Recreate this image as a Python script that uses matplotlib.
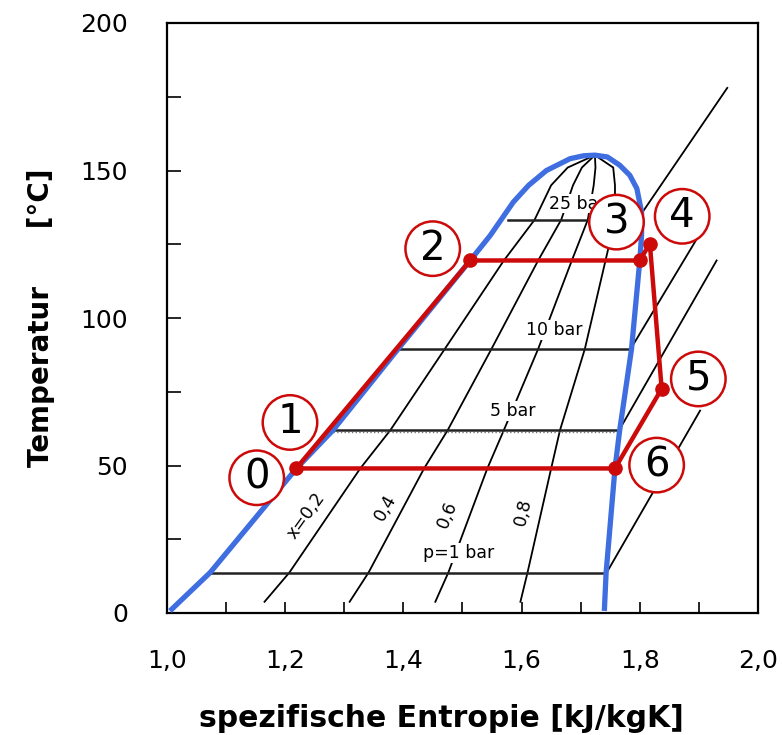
import numpy as np
import matplotlib.pyplot as plt

plt.rcParams["font.family"] = ["DejaVu Sans"]

# Saturation dome: liquid side, then vapour side
liq_T = [0.7, 13.7, 49, 62, 89.5, 119.5, 128, 139.3, 145, 150, 154, 155.0, 155.2]
liq_s = [1.005, 1.073, 1.219, 1.281, 1.391, 1.513, 1.547, 1.586, 1.612, 1.642, 1.682, 1.705, 1.724]
vap_T = [155.2, 154.6, 151.8, 148.4, 143.9, 135.9, 128, 119.5, 89.5, 62, 49, 13.7, 0.7]
vap_s = [1.724, 1.745, 1.766, 1.783, 1.795, 1.803, 1.803, 1.800, 1.786, 1.766, 1.758, 1.743, 1.740]

# Lines of constant vapour quality x
qual_T = [3.8, 13.7, 49, 62, 89.5, 119.5, 133.3, 145, 151, 155.2]
qual_s = {
    "0.2": [1.165, 1.207, 1.327, 1.378, 1.470, 1.570, 1.622, 1.650, 1.678, 1.724],
    "0.4": [1.309, 1.341, 1.435, 1.475, 1.549, 1.628, 1.667, 1.687, 1.702, 1.724],
    "0.6": [1.454, 1.476, 1.542, 1.570, 1.628, 1.685, 1.712, 1.722, 1.725, 1.724],
    "0.8": [1.598, 1.610, 1.650, 1.665, 1.707, 1.742, 1.758, 1.758, 1.755, 1.724],
}
qual_labels = ["x=0,2", "0,4", "0,6", "0,8"]
qual_label_s = [1.236, 1.369, 1.475, 1.603]
qual_label_T = [32.9, 35.8, 33.5, 34.1]

# Isobars: two-phase part (horizontal) and superheated part
p_labels = ["p=1 bar", "5 bar", "10 bar", "25 bar"]
p_T = [13.7, 62, 89.5, 133.3]
p_s_liq = [1.073, 1.281, 1.391, 1.577]
p_s_vap = [1.740, 1.764, 1.786, 1.803]
sup_s = [[1.744, 1.902], [1.768, 1.930], [1.789, 1.900], [1.805, 1.948]]
sup_T = [[13.7, 68.6], [63, 119.5], [91, 128], [136, 178]]
p_label_s = [1.494, 1.585, 1.655, 1.694]
p_label_T = [20.4, 68.4, 96.0, 138.8]

# Cycle states 0..6 and closing back to 0
cyc_names = ["0", "1", "2", "3", "4", "5", "6"]
cyc_s = [1.219, 1.229, 1.513, 1.800, 1.817, 1.837, 1.758]
cyc_T = [49, 51.5, 119.5, 119.5, 125.2, 76, 49]
cyc_dot = [True, False, True, True, True, True, True]

RED = "#cc0a0a"
BLUE = "#3f6ee0"

fig = plt.figure(figsize=(7.82, 7.35), dpi=100)
ax = fig.add_axes([167 / 782, 122 / 735, 591 / 782, 590 / 735])
ax.set_xlim(1.0, 2.0)
ax.set_ylim(0, 200)

# quality lines
for key, lab, ls, lt in zip(qual_s, qual_labels, qual_label_s, qual_label_T):
    ax.plot(qual_s[key], qual_T, color="black", lw=1.3, zorder=2)
    s = np.array(qual_s[key])
    # text angle along the lower part of the line, in screen space
    dx = (s[2] - s[0]) * 591
    dy = (qual_T[2] - qual_T[0]) * 590 / 200
    ang = np.degrees(np.arctan2(dy, dx))
    ax.text(ls, lt, lab, rotation=ang, ha="center", va="center", fontsize=12.5,
            rotation_mode="anchor", zorder=3)

# isobars
for i in range(len(p_T)):
    ax.plot([p_s_liq[i], p_s_vap[i]], [p_T[i], p_T[i]], color="#222222", lw=1.8,
            zorder=2)
    if i == 1:
        ax.plot([p_s_liq[i], p_s_vap[i]], [p_T[i] - 0.7, p_T[i] - 0.7],
                color="#777777", lw=1.0, ls=":", zorder=2)
    ax.plot(sup_s[i], sup_T[i], color="black", lw=1.3, zorder=2)
    ax.text(p_label_s[i], p_label_T[i], p_labels[i], ha="center", va="center",
            fontsize=12.5, zorder=3,
            bbox=dict(boxstyle="square,pad=0.05", fc="white", ec="none"))

# saturation dome
ax.plot(liq_s + vap_s[1:], liq_T + vap_T[1:], color=BLUE, lw=3.8,
        solid_capstyle="butt", zorder=4)

# cycle
ax.plot(cyc_s + [cyc_s[0]], cyc_T + [cyc_T[0]], color=RED, lw=3.2, zorder=5)
dots_s = [s for s, d in zip(cyc_s, cyc_dot) if d]
dots_T = [t for t, d in zip(cyc_T, cyc_dot) if d]
ax.plot(dots_s, dots_T, "o", color=RED, ms=9.5, zorder=6)

# circled state numbers, offset in points from each state
offsets = [(-28.6, -6.7), (-8.9, 27.8), (-27, 8.5), (-16.8, 27.6),
           (23.3, 19.7), (26.4, 7.1), (30, 2.4)]
for name, s, t, off in zip(cyc_names, cyc_s, cyc_T, offsets):
    ax.annotate(name, xy=(s, t), xytext=off, textcoords="offset points",
                ha="center", va="center", fontsize=29, zorder=8,
                bbox=dict(boxstyle="circle,pad=0.18", fc="white", ec=RED, lw=1.8))

# axes, ticks
ax.set_xticks(np.arange(1.0, 2.01, 0.2))
ax.set_xticklabels([f"{v:.1f}".replace(".", ",") for v in np.arange(1.0, 2.01, 0.2)])
ax.set_xticks(np.arange(1.1, 2.0, 0.2), minor=True)
ax.set_yticks(np.arange(0, 201, 50))
ax.set_yticks(np.arange(25, 200, 50), minor=True)
ax.tick_params(which="both", direction="in", top=False, right=False,
               width=1.2, labelsize=18)
ax.tick_params(axis="x", which="both", length=8, pad=26)
ax.tick_params(axis="y", which="both", length=10, pad=28)
for sp in ax.spines.values():
    sp.set_linewidth(1.6)

ax.set_xlabel("spezifische Entropie [kJ/kgK]", fontsize=21.5, fontweight="bold")
ax.xaxis.set_label_coords(0.464, -0.155)
ax.set_ylabel("Temperatur      [°C]", fontsize=20, fontweight="bold")
ax.yaxis.set_label_coords(-0.19, 0.5)

fig.savefig("out.png", dpi=100)
